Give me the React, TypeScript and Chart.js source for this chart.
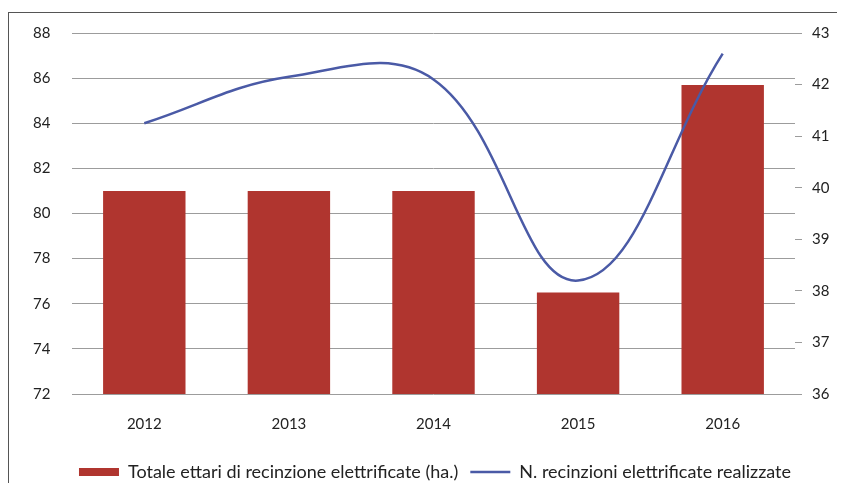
import React, { useEffect, useRef } from "react";
import { Chart, registerables } from "chart.js";

Chart.register(...registerables);

const years = ["2012", "2013", "2014", "2015", "2016"];
const ettari = [81.0, 81.0, 81.0, 76.5, 85.7];
const recinzioni = [41.25, 42.15, 42.1, 38.2, 42.6];
const barLabel = "Totale ettari di recinzione elettrificate (ha.)";
const lineLabel = "N. recinzioni elettrificate realizzate";

const FONT = "Lato, 'Open Sans', sans-serif";

export default function App() {
  const ref = useRef<HTMLCanvasElement | null>(null);
  useEffect(() => {
    if (!ref.current) return;
    const chart = new Chart(ref.current, {
      type: "bar",
      data: {
        labels: years,
        datasets: [
          {
            type: "line",
            label: lineLabel,
            data: recinzioni,
            yAxisID: "y1",
            borderColor: "#4a5aa6",
            backgroundColor: "#4a5aa6",
            borderWidth: 2.5,
            pointRadius: 0,
            tension: 0.4,
            fill: false,
          } as any,
          {
            type: "bar",
            label: barLabel,
            data: ettari,
            yAxisID: "y",
            backgroundColor: "#b0352f",
            borderWidth: 0,
            barPercentage: 0.57,
            categoryPercentage: 1,
          },
        ],
      },
      options: {
        animation: false,
        responsive: true,
        maintainAspectRatio: false,
        layout: { padding: { top: 20, bottom: 0, left: 24, right: 0 } },
        plugins: {
          tooltip: { enabled: false },
          legend: {
            position: "bottom",
            labels: {
              sort: (a: any, b: any) => b.datasetIndex - a.datasetIndex,
              usePointStyle: true,
              pointStyleWidth: 40,
              boxHeight: 8,
              padding: 12,
              color: "#222",
              font: { family: FONT, size: 18 },
              generateLabels: (chart: any) =>
                chart.data.datasets.map((ds: any, i: number) => ({
                  text: ds.label,
                  datasetIndex: i,
                  fillStyle: ds.type === "line" ? ds.borderColor : ds.backgroundColor,
                  strokeStyle: ds.type === "line" ? ds.borderColor : ds.backgroundColor,
                  lineWidth: ds.type === "line" ? 2.5 : 0,
                  pointStyle: ds.type === "line" ? "line" : "rect",
                  hidden: false,
                  fontColor: "#222",
                })),
            },
          },
        },
        scales: {
          x: {
            grid: { display: false, drawTicks: false },
            border: { display: false },
            ticks: { color: "#222", font: { family: FONT, size: 15 }, padding: 21 },
            afterFit: (s: any) => {
              s.height = 57;
            },
          },
          y: {
            position: "left",
            min: 72,
            max: 88,
            ticks: {
              stepSize: 2,
              color: "#222",
              font: { family: FONT, size: 15 },
              padding: 0,
              crossAlign: "far",
            },
            grid: { color: "#9c9c9c", lineWidth: 1, drawTicks: false },
            border: { display: false },
            afterFit: (s: any) => {
              s.width = 39;
            },
          },
          y1: {
            position: "right",
            min: 36,
            max: 43,
            ticks: { stepSize: 1, color: "#222", font: { family: FONT, size: 15 }, padding: 10 },
            grid: { drawOnChartArea: false, drawTicks: true, tickLength: 7, color: "#9c9c9c" },
            border: { display: false },
            afterFit: (s: any) => {
              s.width = 42;
            },
          },
        },
      },
    });
    return () => chart.destroy();
  }, []);
  return (
    <div
      style={{
        marginTop: 4,
        marginBottom: -8,
        borderLeft: "1px solid #555",
        borderTop: "1px solid #555",
        width: 828,
        height: 478,
        position: "relative",
      }}
    >
      <canvas ref={ref} />
    </div>
  );
}
